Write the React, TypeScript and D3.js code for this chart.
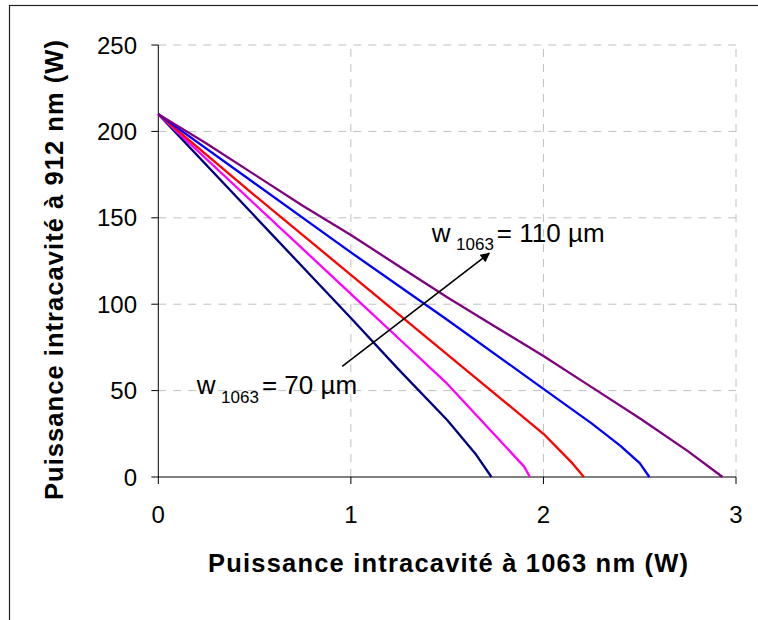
import React from "react";
import * as d3 from "d3";

const xTicks = [0, 1, 2, 3];
const yTicks = [0, 50, 100, 150, 200, 250];

const navy: [number, number][] = [[0, 210], [0.5, 151], [1, 92], [1.25, 62], [1.5, 33], [1.65, 13], [1.73, 0]];
const magenta: [number, number][] = [[0, 210], [0.5, 158], [1, 106], [1.25, 80], [1.5, 54], [1.75, 24], [1.9, 6], [1.93, 0]];
const red: [number, number][] = [[0, 210], [0.5, 163], [1, 117], [1.5, 71], [1.75, 48], [2, 25], [2.15, 8], [2.21, 0]];
const blue: [number, number][] = [[0, 210], [0.5, 170], [1, 130], [1.5, 91], [2, 51], [2.25, 31], [2.4, 18], [2.5, 8], [2.55, 0]];
const purple: [number, number][] = [[0, 210], [0.25, 193], [0.5, 175], [0.75, 157], [1, 140], [1.25, 122], [1.5, 104], [1.75, 87], [2, 70], [2.25, 52], [2.5, 34], [2.75, 15], [2.93, 0]];

const seriesList = [
  { name: "70", data: navy, color: "#000080" },
  { name: "80", data: magenta, color: "#FF00FF" },
  { name: "90", data: red, color: "#FF0000" },
  { name: "100", data: blue, color: "#0000FF" },
  { name: "110", data: purple, color: "#800080" },
];

const arrowFrom: [number, number] = [0.955, 64];
const arrowTo: [number, number] = [1.719, 129.5];
const labelHigh: [number, number] = [1.42, 136];
const labelLow: [number, number] = [0.2, 48];

const xTitle = "Puissance intracavité à 1063 nm  (W)";
const yTitle = "Puissance intracavité à 912 nm  (W)";

export default function App() {
  const x = d3.scaleLinear().domain([0, 3]).range([158.3, 736]);
  const y = d3.scaleLinear().domain([0, 250]).range([477, 45]);
  const line = d3.line<[number, number]>().x((d) => x(d[0])).y((d) => y(d[1]));
  const font = "'Liberation Sans', Arial, sans-serif";

  const ax1 = x(arrowFrom[0]), ay1 = y(arrowFrom[1]);
  const ax2 = x(arrowTo[0]), ay2 = y(arrowTo[1]);

  const label = (pos: [number, number], value: string) => {
    const lx = x(pos[0]);
    const ly = y(pos[1]);
    return (
      <text x={lx} y={ly} fontFamily={font} fontSize={26} fill="#000">
        <tspan>w</tspan>
        <tspan fontSize={17} dx={5.5} dy={8.5}>1063</tspan>
        <tspan dx={3} dy={-8.5}>{`= ${value} µm`}</tspan>
      </text>
    );
  };

  return (
    <svg width={758} height={620} style={{ position: "absolute", left: 0, top: 0, background: "#fff" }}>
      <defs>
        <marker id="arrowHead" viewBox="0 0 10 10" refX="9" refY="5" markerWidth="7" markerHeight="6" markerUnits="strokeWidth" orient="auto">
          <path d="M0,0 L10,5 L0,10 z" fill="#000" />
        </marker>
      </defs>
      <rect x={9.5} y={5.5} width={760} height={640} fill="#fff" stroke="#222" strokeWidth={1.2} />
      {yTicks.filter((t) => t > 0).map((t) => (
        <line key={"gy" + t} x1={x(0)} x2={x(3)} y1={y(t)} y2={y(t)} stroke="#c0c0c0" strokeWidth={1} strokeDasharray="8,7" />
      ))}
      {xTicks.filter((t) => t > 0).map((t) => (
        <line key={"gx" + t} x1={x(t)} x2={x(t)} y1={y(0)} y2={y(250)} stroke="#c0c0c0" strokeWidth={1} strokeDasharray="8,7" />
      ))}
      <line x1={x(0)} x2={x(0)} y1={y(0)} y2={y(250)} stroke="#000" strokeWidth={1} />
      <line x1={x(0)} x2={x(3)} y1={y(0)} y2={y(0)} stroke="#000" strokeWidth={1} />
      {yTicks.map((t) => (
        <g key={"ty" + t}>
          <line x1={x(0) - 7} x2={x(0)} y1={y(t)} y2={y(t)} stroke="#000" strokeWidth={1} />
          <text x={137} y={y(t) + 8.5} textAnchor="end" fontFamily={font} fontSize={24} fill="#000">{t}</text>
        </g>
      ))}
      {xTicks.map((t) => (
        <g key={"tx" + t}>
          <line x1={x(t)} x2={x(t)} y1={y(0)} y2={y(0) + 7} stroke="#000" strokeWidth={1} />
          <text x={x(t)} y={522.5} textAnchor="middle" fontFamily={font} fontSize={24} fill="#000">{t}</text>
        </g>
      ))}
      {seriesList.map((s) => (
        <path key={s.name} d={line(s.data) || ""} fill="none" stroke={s.color} strokeWidth={2.3} strokeLinejoin="round" />
      ))}
      <line x1={ax1} y1={ay1} x2={ax2} y2={ay2} stroke="#000" strokeWidth={1.6} markerEnd="url(#arrowHead)" />
      {label(labelHigh, "110")}
      {label(labelLow, "70")}
      <text x={448} y={572} textAnchor="middle" fontFamily={font} fontWeight="bold" fontSize={25.5} fill="#000" textLength={480} lengthAdjust="spacing">{xTitle}</text>
      <text transform="translate(63,270) rotate(-90)" textAnchor="middle" fontFamily={font} fontWeight="bold" fontSize={25.5} fill="#000" textLength={460} lengthAdjust="spacing">{yTitle}</text>
    </svg>
  );
}
